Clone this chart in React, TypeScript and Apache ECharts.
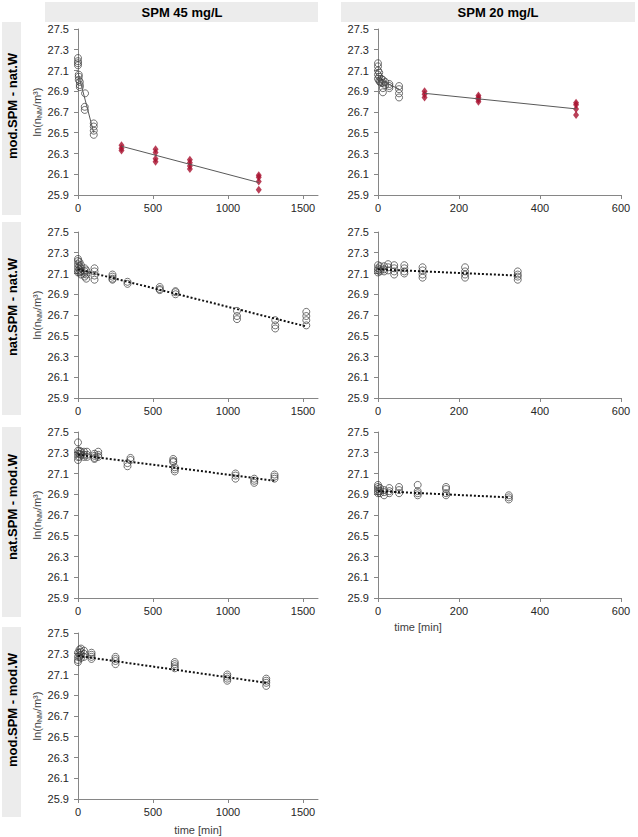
import React, { useEffect, useRef } from 'react';
import * as echarts from 'echarts';

const yTicks = [25.9, 26.1, 26.3, 26.5, 26.7, 26.9, 27.1, 27.3, 27.5];
const xTicks45 = [0, 500, 1000, 1500];
const xTicks20 = [0, 200, 400, 600];
const columnTitles = ['SPM 45 mg/L', 'SPM 20 mg/L'];
const rowTitles = ['mod.SPM - nat.W', 'nat.SPM - nat.W', 'nat.SPM - mod.W', 'mod.SPM - mod.W'];
const yName = 'ln(n{s|NM}/m³)';
const xName = 'time [min]';

// Panel 1: mod.SPM - nat.W, SPM 45
const p1CircleT = [0, 5, 12, 47, 45, 105];
const p1CircleV = [
  [27.22, 27.19, 27.17, 27.15],
  [27.06, 27.04, 27.01],
  [26.99, 26.96, 26.94],
  [26.88],
  [26.75, 26.72],
  [26.59, 26.56, 26.52, 26.48],
];
const p1DiamondT = [290, 517, 746, 1205];
const p1DiamondV = [
  [26.38, 26.35, 26.33],
  [26.34, 26.31, 26.25, 26.22],
  [26.24, 26.21, 26.18, 26.15],
  [26.09, 26.07, 26.03, 25.95],
];
const p1TrendA = [[0, 27.08], [105, 26.5]];
const p1TrendB = [[290, 26.37], [1205, 26.02]];

// Panel 2: mod.SPM - nat.W, SPM 20
const p2CircleT = [0, 3, 5, 8, 12, 18, 28, 52];
const p2CircleV = [
  [27.17, 27.14, 27.1, 27.06, 27.02],
  [27.08, 27.04, 27.0],
  [26.99],
  [27.02, 26.98],
  [27.01, 26.98, 26.93, 26.89],
  [26.99, 26.96],
  [26.97, 26.95, 26.93],
  [26.95, 26.92, 26.88, 26.84],
];
const p2DiamondT = [115, 248, 489];
const p2DiamondV = [
  [26.9, 26.87, 26.84],
  [26.86, 26.84, 26.82, 26.8],
  [26.79, 26.77, 26.73, 26.67],
];
const p2TrendA = [[0, 27.02], [52, 26.92]];
const p2TrendB = [[115, 26.88], [489, 26.73]];

// Panel 3: nat.SPM - nat.W, SPM 45
const p3CircleT = [0, 10, 20, 45, 55, 110, 230, 330, 545, 650, 1060, 1315, 1522];
const p3CircleV = [
  [27.24, 27.22, 27.19, 27.16, 27.13, 27.11],
  [27.21, 27.17, 27.14, 27.11],
  [27.18, 27.15, 27.12, 27.09],
  [27.15, 27.12, 27.1, 27.07],
  [27.13, 27.09, 27.05],
  [27.15, 27.12, 27.08, 27.04],
  [27.09, 27.07, 27.05, 27.04],
  [27.02, 27.0],
  [26.97, 26.95, 26.94],
  [26.93, 26.92, 26.9],
  [26.74, 26.69, 26.66],
  [26.65, 26.6, 26.57],
  [26.73, 26.69, 26.65, 26.6],
];
const p3Trend = [[0, 27.14], [1522, 26.59]];

// Panel 4: nat.SPM - nat.W, SPM 20
const p4CircleT = [0, 5, 15, 25, 40, 65, 110, 215, 345];
const p4CircleV = [
  [27.18, 27.15, 27.13, 27.11],
  [27.17, 27.14, 27.12],
  [27.17, 27.14, 27.12],
  [27.19, 27.16, 27.13],
  [27.18, 27.15, 27.12, 27.09],
  [27.18, 27.15, 27.12, 27.1],
  [27.16, 27.13, 27.09, 27.06],
  [27.16, 27.12, 27.09, 27.06],
  [27.12, 27.09, 27.07, 27.04],
];
const p4Trend = [[0, 27.14], [345, 27.08]];

// Panel 5: nat.SPM - mod.W, SPM 45
const p5CircleT = [0, 10, 20, 40, 60, 110, 135, 330, 350, 635, 645, 1050, 1175, 1310];
const p5CircleV = [
  [27.4, 27.32, 27.29, 27.26, 27.23],
  [27.32, 27.29, 27.26],
  [27.31, 27.28],
  [27.31, 27.28, 27.26],
  [27.31, 27.28, 27.26],
  [27.29, 27.27, 27.25, 27.24],
  [27.31, 27.28, 27.26],
  [27.2, 27.17],
  [27.25, 27.23],
  [27.24, 27.22, 27.21],
  [27.16, 27.14, 27.12],
  [27.1, 27.08, 27.05],
  [27.05, 27.03, 27.01],
  [27.09, 27.07, 27.05],
];
const p5Trend = [[0, 27.28], [1310, 27.03]];

// Panel 6: nat.SPM - mod.W, SPM 20
const p6CircleT = [0, 5, 15, 28, 52, 98, 168, 323];
const p6CircleV = [
  [26.99, 26.97, 26.95, 26.93, 26.91],
  [26.96, 26.93, 26.91],
  [26.94, 26.92, 26.89],
  [26.96, 26.93, 26.91],
  [26.97, 26.94, 26.91],
  [26.99, 26.93, 26.91, 26.89],
  [26.97, 26.95, 26.91, 26.89],
  [26.89, 26.87, 26.85],
];
const p6Trend = [[0, 26.93], [323, 26.87]];

// Panel 7: mod.SPM - mod.W, SPM 45
const p7CircleT = [0, 10, 20, 40, 90, 250, 645, 995, 1255];
const p7CircleV = [
  [27.31, 27.27, 27.24, 27.22],
  [27.34, 27.31, 27.27],
  [27.35, 27.32, 27.29, 27.26],
  [27.33, 27.3, 27.27],
  [27.31, 27.29, 27.27, 27.25],
  [27.27, 27.25, 27.23, 27.2],
  [27.22, 27.2, 27.18, 27.16],
  [27.1, 27.08, 27.06, 27.04],
  [27.06, 27.04, 27.02, 26.99],
];
const p7Trend = [[0, 27.28], [1255, 27.02]];

const pts = (times: number[], vals: number[][]) =>
  times.flatMap((t, i) => vals[i].map((v) => [t, v]));

const FONT = 'Liberation Sans, Arial, sans-serif';
const AXIS_COLOR = '#868686';
const TEXT_COLOR = '#262626';
const RED = '#A8102E';

type Panel = {
  row: number;
  col: number;
  circles: number[][];
  diamonds?: number[][];
  solid?: number[][][];
  dotted?: number[][];
};

const panels: Panel[] = [
  { row: 0, col: 0, circles: pts(p1CircleT, p1CircleV), diamonds: pts(p1DiamondT, p1DiamondV), solid: [p1TrendA, p1TrendB] },
  { row: 0, col: 1, circles: pts(p2CircleT, p2CircleV), diamonds: pts(p2DiamondT, p2DiamondV), solid: [p2TrendA, p2TrendB] },
  { row: 1, col: 0, circles: pts(p3CircleT, p3CircleV), dotted: p3Trend },
  { row: 1, col: 1, circles: pts(p4CircleT, p4CircleV), dotted: p4Trend },
  { row: 2, col: 0, circles: pts(p5CircleT, p5CircleV), dotted: p5Trend },
  { row: 2, col: 1, circles: pts(p6CircleT, p6CircleV), dotted: p6Trend },
  { row: 3, col: 0, circles: pts(p7CircleT, p7CircleV), dotted: p7Trend },
];

const rowTops = [29, 232, 432, 633];
const gridH = 166;
const colLeft = [78, 378];
const colWidth = [240, 243];

const rowBands = [[22, 215], [222, 415], [427, 617], [627, 817]];
const rowLabelCenters = [106, 307, 507, 710];

export default function App() {
  const ref = useRef<HTMLDivElement>(null);
  useEffect(() => {
    if (!ref.current) return;
    const chart = echarts.init(ref.current, null, { renderer: 'svg' });
    const grid: any[] = [];
    const xAxis: any[] = [];
    const yAxis: any[] = [];
    const series: any[] = [];
    panels.forEach((p, i) => {
      grid.push({ left: colLeft[p.col], top: rowTops[p.row], width: colWidth[p.col], height: gridH, containLabel: false });
      const xt = p.col === 0 ? xTicks45 : xTicks20;
      xAxis.push({
        gridIndex: i,
        type: 'value',
        min: 0,
        max: p.col === 0 ? 1600 : 600,
        axisLine: { show: true, onZero: false, lineStyle: { color: AXIS_COLOR, width: 1 } },
        axisTick: { show: true, length: 4, customValues: xt, lineStyle: { color: AXIS_COLOR } },
        axisLabel: {
          customValues: xt,
          formatter: (v: number) => String(v),
          fontSize: 11,
          color: TEXT_COLOR,
          fontFamily: FONT,
          margin: 7,
        },
        splitLine: { show: false },
      });
      yAxis.push({
        gridIndex: i,
        type: 'value',
        min: 25.9,
        max: 27.5,
        axisLine: { show: true, lineStyle: { color: AXIS_COLOR, width: 1 } },
        axisTick: { show: true, length: 4, customValues: yTicks, lineStyle: { color: AXIS_COLOR } },
        axisLabel: {
          customValues: yTicks,
          formatter: (v: number) => v.toFixed(1),
          fontSize: 11,
          color: TEXT_COLOR,
          fontFamily: FONT,
          margin: 9,
        },
        splitLine: { show: false },
        name: p.col === 0 ? yName : '',
        nameLocation: 'middle',
        nameRotate: 90,
        nameGap: 35,
        nameTextStyle: {
          fontSize: 11,
          color: '#404040',
          fontFamily: FONT,
          rich: {
            s: { fontSize: 7, fontFamily: FONT, color: '#404040', padding: [5, 0, 0, 0] },
          },
        },
      });
      series.push({
        type: 'scatter',
        xAxisIndex: i,
        yAxisIndex: i,
        data: p.circles,
        symbol: 'circle',
        symbolSize: 7,
        itemStyle: { color: 'rgba(0,0,0,0)', borderColor: '#3a3a3a', borderWidth: 0.9 },
        z: 2,
      });
      if (p.diamonds) {
        series.push({
          type: 'scatter',
          xAxisIndex: i,
          yAxisIndex: i,
          data: p.diamonds,
          symbol: 'diamond',
          symbolSize: [6, 8],
          itemStyle: { color: RED },
          z: 2,
        });
      }
      (p.solid || []).forEach((seg) => {
        series.push({
          type: 'line',
          xAxisIndex: i,
          yAxisIndex: i,
          data: seg,
          symbol: 'none',
          lineStyle: { color: '#595959', width: 1 },
          z: 3,
        });
      });
      if (p.dotted) {
        series.push({
          type: 'line',
          xAxisIndex: i,
          yAxisIndex: i,
          data: p.dotted,
          symbol: 'none',
          lineStyle: { color: '#111', width: 2, type: [2, 2] },
          z: 3,
        });
      }
    });

    const graphic: any[] = [];
    graphic.push({ type: 'rect', shape: { x: 45, y: 2, width: 273, height: 20 }, style: { fill: '#ececec' }, silent: true });
    graphic.push({ type: 'rect', shape: { x: 341, y: 2, width: 294, height: 20 }, style: { fill: '#ececec' }, silent: true });
    graphic.push({ type: 'text', x: 182, y: 12, style: { text: columnTitles[0], font: `bold 13px ${FONT}`, fill: '#000', align: 'center', verticalAlign: 'middle' } });
    graphic.push({ type: 'text', x: 498, y: 12, style: { text: columnTitles[1], font: `bold 13px ${FONT}`, fill: '#000', align: 'center', verticalAlign: 'middle' } });
    rowBands.forEach((b, r) => {
      graphic.push({ type: 'rect', shape: { x: 2, y: b[0], width: 19, height: b[1] - b[0] }, style: { fill: '#ececec' }, silent: true });
      graphic.push({
        type: 'text',
        x: 12,
        y: rowLabelCenters[r],
        rotation: Math.PI / 2,
        style: { text: rowTitles[r], font: `bold 13px ${FONT}`, fill: '#000', align: 'center', verticalAlign: 'middle' },
      });
    });
    graphic.push({ type: 'text', x: 418, y: 627, style: { text: xName, font: `11px ${FONT}`, fill: '#404040', align: 'center', verticalAlign: 'middle' } });
    graphic.push({ type: 'text', x: 198, y: 830, style: { text: xName, font: `11px ${FONT}`, fill: '#404040', align: 'center', verticalAlign: 'middle' } });

    chart.setOption({
      animation: false,
      backgroundColor: '#ffffff',
      grid,
      xAxis,
      yAxis,
      series,
      graphic,
    });
    return () => chart.dispose();
  }, []);
  return <div ref={ref} style={{ position: 'fixed', left: 0, top: 0, width: 638, height: 837 }} />;
}
